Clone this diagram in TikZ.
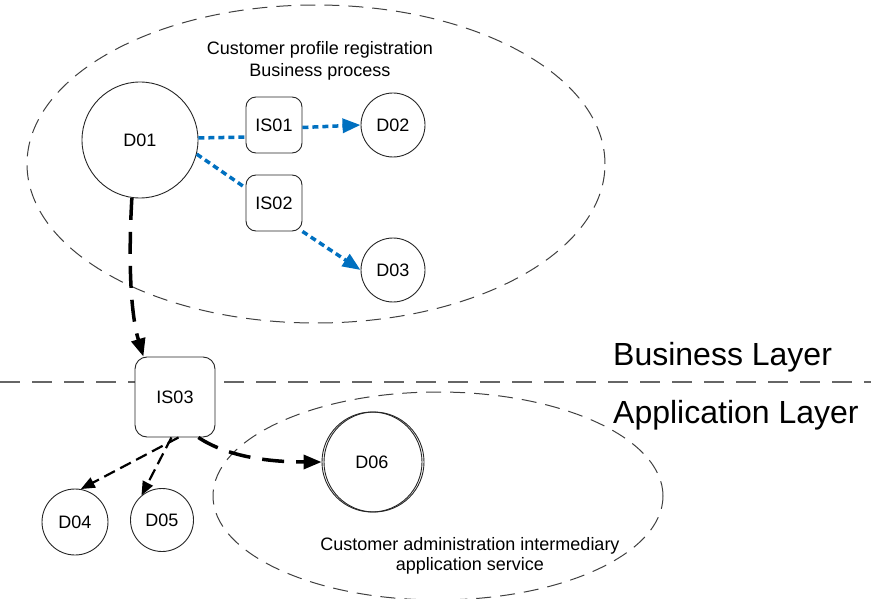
\documentclass[tikz,border=0pt]{standalone}
\usepackage{fontspec}
\setmainfont{Liberation Sans}
\usetikzlibrary{arrows.meta, positioning}
\definecolor{flowblue}{RGB}{0,112,192}
\tikzset{
  dnode/.style={draw=black!85, line width=0.9pt, circle, inner sep=0pt, fill=white, font=\fontsize{18}{21}\selectfont},
  isnode/.style={draw=black!85, line width=0.9pt, rectangle, rounded corners=10pt, inner sep=0pt, fill=white, font=\fontsize{18}{21}\selectfont},
  infoline/.style={draw=flowblue, line width=3.5pt, dash pattern=on 6pt off 4pt},
  infoflow/.style={infoline, -{Triangle[length=18pt,width=14pt]}, flowblue},
  mainflow/.style={line width=3.5pt, dash pattern=on 22pt off 12pt, -{Triangle[length=18pt,width=14pt]}},
  subflow/.style={line width=2.2pt, dash pattern=on 12pt off 6pt, -{Triangle[length=14pt,width=11pt]}},
  region/.style={black!75, line width=1pt, dash pattern=on 15pt off 9pt},
  layerline/.style={black!60, line width=1.2pt, dash pattern=on 20pt off 12pt},
  caption/.style={align=center, inner sep=0pt, font=\fontsize{18}{22}\selectfont},
  layertext/.style={anchor=base west, inner sep=0pt, font=\fontsize{32}{38}\selectfont}
}

\begin{document}
\begin{tikzpicture}[x=1pt, y=-1pt]
\useasboundingbox (0,0) rectangle (871,599);

\draw[region] (316,164) ellipse [x radius=289pt, y radius=159pt];
\draw[region] (438,496) ellipse [x radius=225pt, y radius=104pt];
\draw[layerline] (0,382) -- (871,382);

\node (bptitle) at (320,61) [caption] {Customer profile registration\\Business process};
\node (astitle) at (470,556) [caption, font=\fontsize{18}{20}\selectfont] {Customer administration intermediary\\application service};
\node (blayer) at (613,365) [layertext] {Business Layer};
\node (alayer) at (613,423) [layertext] {Application Layer};

\node (d01) at (140,140) [dnode, minimum size=116pt] {D01};
\node (is01) at (274,125) [isnode, minimum size=56pt] {IS01};
\node (is02) at (274,203) [isnode, minimum size=56pt] {IS02};
\node (d02) at (393,125) [dnode, minimum size=64pt] {D02};
\node (d03) at (393,270) [dnode, minimum size=64pt] {D03};
\node (is03) at (175,397) [isnode, rounded corners=12pt, minimum size=80pt] {IS03};
\node (d04) at (75,522) [dnode, minimum size=66pt] {D04};
\node (d05) at (162,520) [dnode, minimum size=63pt] {D05};
\node (d06) at (372,462) [dnode, minimum size=100pt] {D06};
\draw[black!85, line width=0.9pt] ([xshift=2pt]d06.center) circle [radius=50pt];

\draw[infoline] (d01.2) -- (is01.203);
\draw[infoflow] (is01.-5) -- (d02.180);
\draw[infoline] (d01.-14) -- (is02.152);
\draw[infoflow] (is02.-45) -- (d03.180);

\draw[mainflow] (d01.-98) .. controls +(-4,70) and +(-12,-40) .. (is03.128);
\draw[subflow] (is03.-85) -- (d04.80);
\draw[subflow] (is03.-95) -- (d05.130);
\draw[mainflow] (is03.-60) .. controls +(30,20) and +(-50,0) .. (d06.west);
\end{tikzpicture}
\end{document}
